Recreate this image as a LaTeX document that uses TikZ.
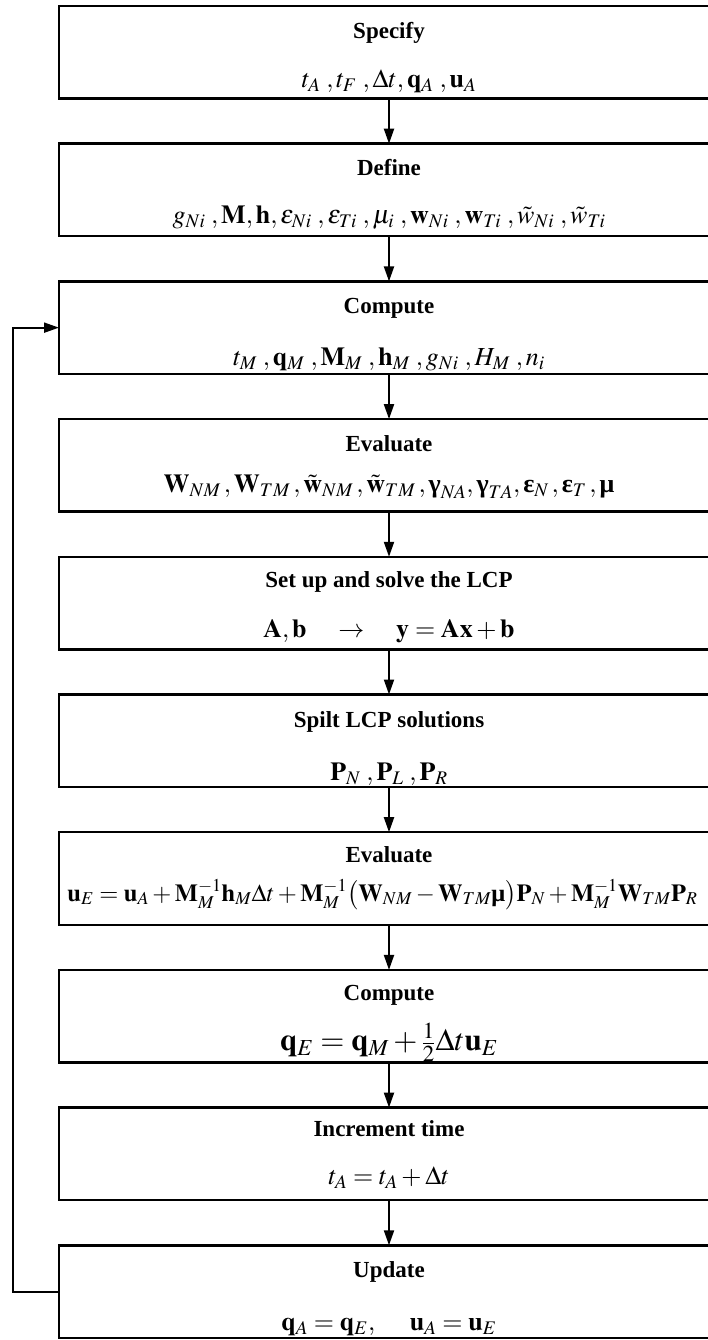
\documentclass[tikz,border=0pt]{standalone}
\usepackage{mathptmx}
\usepackage{amsmath}
\usepackage{fontspec}
\setmainfont{Liberation Serif}
\usepackage{tikz}
\usetikzlibrary{positioning,arrows.meta,calc}
\definecolor{cLine}{HTML}{000000}
% bold upright greek, taken from the text font
\newcommand{\bgreek}[1]{\mbox{\bfseries #1}}
% comma with a little space in front
\newcommand{\csep}{\mskip4mu,}
\tikzset{
  step-box/.style={draw=cLine,line width=2.4pt,minimum width=660pt,
    minimum height=92.5pt,inner sep=0pt,outer sep=0pt},
  step-title/.style={font=\fontsize{23}{27}\selectfont\bfseries,inner sep=0pt,anchor=base},
  step-math/.style={font=\fontsize{26}{30}\selectfont,inner sep=0pt,anchor=base},
  arrow/.style={-{Triangle[length=15pt,width=10pt]},line width=2pt,draw=cLine},
}

\begin{document}
\begin{tikzpicture}[node distance=45.2pt]
  \useasboundingbox (0,0) rectangle (707pt,-1340pt);
  % the ten steps
  \node[step-box] (b1) at (389pt,-52.25pt) {};
  \node[step-box,below=of b1] (b2) {};
  \node[step-box,below=of b2] (b3) {};
  \node[step-box,below=of b3] (b4) {};
  \node[step-box,below=of b4] (b5) {};
  \node[step-box,below=of b5] (b6) {};
  \node[step-box,below=of b6] (b7) {};
  \node[step-box,below=of b7] (b8) {};
  \node[step-box,below=of b8] (b9) {};
  \node[step-box,below=of b9] (b10) {};

  \node[step-title] (t1) at ($(b1.north)+(0,-33pt)$) {Specify};
  \node[step-math] (m1) at ($(b1.north)+(0,-82pt)$)
    {$t_A\csep t_F\csep \Delta t, \mathbf{q}_A\csep \mathbf{u}_A$};

  \node[step-title] (t2) at ($(b2.north)+(0,-32pt)$) {Define};
  \node[step-math] (m2) at ($(b2.north)+(0,-80pt)$)
    {$g_{Ni}\csep \mathbf{M}, \mathbf{h}, \varepsilon_{Ni}\csep \varepsilon_{Ti}\csep \mu_i\csep \mathbf{w}_{Ni}\csep \mathbf{w}_{Ti}\csep \tilde{w}_{Ni}\csep \tilde{w}_{Ti}$};

  \node[step-title] (t3) at ($(b3.north)+(0,-32pt)$) {Compute};
  \node[step-math] (m3) at ($(b3.north)+(0,-84pt)$)
    {$t_M\csep \mathbf{q}_M\csep \mathbf{M}_M\csep \mathbf{h}_M\csep g_{Ni}\csep H_M\csep n_i$};

  \node[step-title] (t4) at ($(b4.north)+(0,-32pt)$) {Evaluate};
  \node[step-math] (m4) at ($(b4.north)+(0,-73pt)$)
    {$\mathbf{W}_{NM}\,, \mathbf{W}_{TM}\,, \tilde{\mathbf{w}}_{NM}\,, \tilde{\mathbf{w}}_{TM}\,, \bgreek{γ}_{NA}, \bgreek{γ}_{TA}, \bgreek{ε}_N\,, \bgreek{ε}_T\,, \bgreek{μ}$};

  \node[step-title] (t5) at ($(b5.north)+(0,-31pt)$) {Set up and solve the LCP};
  \node[step-math] (m5) at ($(b5.north)+(0,-81pt)$)
    {$\mathbf{A}, \mathbf{b} \quad\rightarrow\quad \mathbf{y} = \mathbf{A}\mathbf{x} + \mathbf{b}$};

  \node[step-title] (t6) at ($(b6.north)+(0,-33pt)$) {Spilt LCP solutions};
  \node[step-math] (m6) at ($(b6.north)+(0,-86pt)$)
    {$\mathbf{P}_N\csep \mathbf{P}_L\csep \mathbf{P}_R$};

  \node[step-title] (t7) at ($(b7.north)+(0,-30pt)$) {Evaluate};
  \node[step-math,font=\fontsize{24.5}{29}\selectfont] (m7) at ($(b7.north)+(-6.5pt,-69pt)$)
    {$\mathbf{u}_E = \mathbf{u}_A + \mathbf{M}_M^{-1}\mathbf{h}_M\Delta t + \mathbf{M}_M^{-1}\bigl(\mathbf{W}_{NM} - \mathbf{W}_{TM}\bgreek{μ}\bigr)\mathbf{P}_N + \mathbf{M}_M^{-1}\mathbf{W}_{TM}\mathbf{P}_R$};

  \node[step-title] (t8) at ($(b8.north)+(0,-31pt)$) {Compute};
  \node[step-math,font=\fontsize{31}{35}\selectfont] (m8) at ($(b8.north)+(0,-81pt)$)
    {$\mathbf{q}_E = \mathbf{q}_M + \tfrac{1}{2}\Delta t\mathbf{u}_E$};

  \node[step-title] (t9) at ($(b9.north)+(0,-29pt)$) {Increment time};
  \node[step-math] (m9) at ($(b9.north)+(0,-77pt)$)
    {$t_A = t_A + \Delta t$};

  \node[step-title] (t10) at ($(b10.north)+(0,-32pt)$) {Update};
  \node[step-math] (m10) at ($(b10.north)+(0,-85pt)$)
    {$\mathbf{q}_A = \mathbf{q}_E, \quad\; \mathbf{u}_A = \mathbf{u}_E$};

  % main flow
  \draw[arrow] (b1) -- (b2);
  \draw[arrow] (b2) -- (b3);
  \draw[arrow] (b3) -- (b4);
  \draw[arrow] (b4) -- (b5);
  \draw[arrow] (b5) -- (b6);
  \draw[arrow] (b6) -- (b7);
  \draw[arrow] (b7) -- (b8);
  \draw[arrow] (b8) -- (b9);
  \draw[arrow] (b9) -- (b10);

  % back to the next step
  \coordinate (loop) at ($(b10.west)+(-46pt,0)$);
  \draw[arrow] (b10.west) -- (loop) |- (b3.west);
\end{tikzpicture}
\end{document}
